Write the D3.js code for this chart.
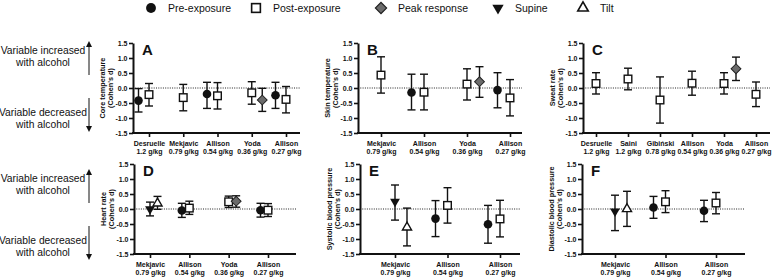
<!DOCTYPE html>
<html lang="en">
<head>
  <meta charset="UTF-8">
  <title>Alcohol effect sizes</title>
  <script src="https://d3js.org/d3.v7.min.js"></script>
  <style>
    body { margin: 0; background: #fff; }
    svg text { font-family: "Liberation Sans", Arial, sans-serif; fill: #111; }
    .axis path, .axis line { fill: none; stroke: #111; }
    .axis text { font-size: 7px; font-weight: bold; }
  </style>
</head>
<body>
  <svg id="svg" width="777" height="277"></svg>
  <script>
    // legend
    var markerTypes = ['pre', 'post', 'peak', 'supine', 'tilt']
    var legendLabels = ['Pre-exposure', 'Post-exposure', 'Peak response', 'Supine', 'Tilt']
    var yTicks = [-1.5, -1.0, -0.5, 0.0, 0.5, 1.0, 1.5]

    // A core temperature
    var coreStudies = ['Desruelle', 'Mekjavic', 'Allison', 'Yoda', 'Allison']
    var coreDoses = ['1.2 g/kg', '0.79 g/kg', '0.54 g/kg', '0.36 g/kg', '0.27 g/kg']
    var corePoints = [ // [study index, type, d, lower, upper]
      [0, 'pre', -0.42, -0.80, -0.02],
      [0, 'post', -0.22, -0.60, 0.15],
      [1, 'post', -0.32, -0.76, 0.12],
      [2, 'pre', -0.20, -0.68, 0.19],
      [2, 'post', -0.26, -0.70, 0.18],
      [3, 'post', -0.16, -0.54, 0.21],
      [3, 'peak', -0.40, -0.78, -0.01],
      [4, 'pre', -0.24, -0.68, 0.19],
      [4, 'post', -0.38, -0.83, 0.05]
    ]

    // B skin temperature
    var skinStudies = ['Mekjavic', 'Allison', 'Yoda', 'Allison']
    var skinDoses = ['0.79 g/kg', '0.54 g/kg', '0.36 g/kg', '0.27 g/kg']
    var skinPoints = [
      [0, 'post', 0.43, -0.17, 1.04],
      [1, 'pre', -0.15, -0.73, 0.46],
      [1, 'post', -0.14, -0.73, 0.46],
      [2, 'post', 0.13, -0.40, 0.64],
      [2, 'peak', 0.21, -0.31, 0.71],
      [3, 'pre', -0.07, -0.66, 0.51],
      [3, 'post', -0.33, -0.93, 0.28]
    ]

    // C sweat rate
    var sweatStudies = ['Desruelle', 'Saini', 'Gibiński', 'Allison', 'Yoda', 'Allison']
    var sweatDoses = ['1.2 g/kg', '1.2 g/kg', '0.78 g/kg', '0.54 g/kg', '0.36 g/kg', '0.27 g/kg']
    var sweatPoints = [
      [0, 'post', 0.15, -0.20, 0.51],
      [1, 'post', 0.30, -0.06, 0.66],
      [2, 'post', -0.40, -1.17, 0.37],
      [3, 'post', 0.16, -0.24, 0.56],
      [4, 'post', 0.15, -0.20, 0.51],
      [4, 'peak', 0.64, 0.25, 1.03],
      [5, 'post', -0.21, -0.62, 0.20]
    ]

    // D heart rate
    var hrStudies = ['Mekjavic', 'Allison', 'Yoda', 'Allison']
    var hrDoses = ['0.79 g/kg', '0.54 g/kg', '0.36 g/kg', '0.27 g/kg']
    var hrPoints = [
      [0, 'supine', 0.00, -0.23, 0.23],
      [0, 'tilt', 0.19, -0.01, 0.42],
      [1, 'pre', -0.05, -0.28, 0.19],
      [1, 'post', 0.03, -0.18, 0.26],
      [2, 'post', 0.24, 0.05, 0.43],
      [2, 'peak', 0.26, 0.06, 0.44],
      [3, 'pre', -0.04, -0.27, 0.19],
      [3, 'post', -0.04, -0.25, 0.18]
    ]

    // E systolic blood pressure
    var bpStudies = ['Mekjavic', 'Allison', 'Allison']
    var bpDoses = ['0.79 g/kg', '0.54 g/kg', '0.27 g/kg']
    var sbpPoints = [
      [0, 'supine', 0.25, -0.37, 0.80],
      [0, 'tilt', -0.61, -1.23, 0.03],
      [1, 'pre', -0.32, -0.92, 0.28],
      [1, 'post', 0.12, -0.47, 0.71],
      [2, 'pre', -0.51, -1.14, 0.12],
      [2, 'post', -0.33, -0.93, 0.29]
    ]

    // F diastolic blood pressure
    var dbpPoints = [
      [0, 'supine', -0.08, -0.72, 0.46],
      [0, 'tilt', 0.00, -0.58, 0.59],
      [1, 'pre', 0.05, -0.31, 0.42],
      [1, 'post', 0.24, -0.12, 0.61],
      [2, 'pre', -0.06, -0.42, 0.29],
      [2, 'post', 0.20, -0.16, 0.55]
    ]

    // layout
    var rows = [{ top: 43, bottom: 133 }, { top: 164, bottom: 254 }]
    var panels = [
      { id: 'A', title: ['Core temperature', "(Cohen's d)"], studies: coreStudies, doses: coreDoses, pts: corePoints, row: 0, x0: 133, x1: 300, t0: 149, t1: 286, slot: 10.5 },
      { id: 'B', title: ['Skin temperature', "(Cohen's d)"], studies: skinStudies, doses: skinDoses, pts: skinPoints, row: 0, x0: 358, x1: 522, t0: 381, t1: 510, slot: 12.5 },
      { id: 'C', title: ['Sweat rate', "(Cohen's d)"], studies: sweatStudies, doses: sweatDoses, pts: sweatPoints, row: 0, x0: 583, x1: 770, t0: 596, t1: 756, slot: 12 },
      { id: 'D', title: ['Heart rate', "(Cohen's d)"], studies: hrStudies, doses: hrDoses, pts: hrPoints, row: 1, x0: 134, x1: 296, t0: 150, t1: 268, slot: 7.5 },
      { id: 'E', title: ['Systolic blood pressure', "(Cohen's d)"], studies: bpStudies, doses: bpDoses, pts: sbpPoints, row: 1, x0: 360, x1: 520, t0: 395, t1: 500, slot: 12 },
      { id: 'F', title: ['Diastolic blood pressure', "(Cohen's d)"], studies: bpStudies, doses: bpDoses, pts: dbpPoints, row: 1, x0: 582, x1: 745, t0: 615, t1: 716, slot: 12 }
    ]

    // where each marker type sits relative to its study tick (in slots)
    var slotOffset = { pre: -1, post: 0, peak: 1, supine: 0, tilt: 1 }

    var svg = d3.select('#svg')

    function marker(sel, type) {
      if (type === 'pre') {
        sel.append('circle').attr('r', 4.3).attr('fill', '#111')
      } else if (type === 'post') {
        sel.append('rect').attr('x', -3.8).attr('y', -3.8).attr('width', 7.6).attr('height', 7.6)
          .attr('fill', '#fff').attr('stroke', '#111').attr('stroke-width', 1.4)
      } else if (type === 'peak') {
        sel.append('path').attr('d', d3.symbol(d3.symbolSquare, 48)())
          .attr('transform', 'rotate(45)')
          .attr('fill', '#6b6b6b').attr('stroke', '#222').attr('stroke-width', 1)
      } else if (type === 'supine') {
        sel.append('path').attr('d', d3.symbol(d3.symbolTriangle, 42)())
          .attr('transform', 'rotate(180)')
          .attr('fill', '#111')
      } else if (type === 'tilt') {
        sel.append('path').attr('d', d3.symbol(d3.symbolTriangle, 36)())
          .attr('fill', '#fff').attr('stroke', '#111').attr('stroke-width', 1.4)
      }
    }

    panels.forEach(function (p) {
      var r = rows[p.row]
      var y = d3.scaleLinear().domain([-1.5, 1.5]).range([r.bottom, r.top])
      var x = d3.scalePoint().domain(d3.range(p.studies.length)).range([p.t0, p.t1])
      var g = svg.append('g')

      // zero reference
      g.append('line')
        .attr('x1', p.x0).attr('x2', p.x1)
        .attr('y1', y(0)).attr('y2', y(0))
        .attr('stroke', '#222').attr('stroke-width', 1)
        .attr('stroke-dasharray', '1,1.3')

      // y axis
      var ya = g.append('g').attr('class', 'axis')
        .attr('transform', 'translate(' + p.x0 + ',0)')
        .call(d3.axisLeft(y).tickValues(yTicks).tickSize(4).tickSizeOuter(0)
          .tickFormat(function (d) { return d.toFixed(1) }))
      ya.select('.domain').attr('stroke-width', 2)
      ya.selectAll('.tick line').attr('stroke-width', 1.6)
      ya.selectAll('.tick text').attr('x', -5.5)

      // x axis
      var xa = g.append('g').attr('class', 'axis')
        .attr('transform', 'translate(0,' + r.bottom + ')')
        .call(d3.axisBottom(x).tickSize(4).tickSizeOuter(0).tickFormat(''))
      xa.select('.domain').remove()
      xa.selectAll('.tick line').attr('stroke-width', 1.6)
      xa.append('line').attr('x1', p.x0 - 1).attr('x2', p.x1).attr('stroke', '#111').attr('stroke-width', 2)
      var lab = xa.selectAll('.tick text')
        .attr('y', 9).attr('dy', 0)
      lab.text(null)
      lab.append('tspan').attr('x', 0).attr('dy', '0.5em').text(function (d) { return p.studies[d] })
      lab.append('tspan').attr('x', 0).attr('dy', '1.2em').text(function (d) { return p.doses[d] })

      // panel letter
      g.append('text').attr('x', p.x0 + 9).attr('y', r.top + 12)
        .attr('font-size', 15).attr('font-weight', 'bold').text(p.id)

      // y title
      var t = g.append('text')
        .attr('transform', 'translate(' + (p.x0 - 28) + ',' + ((r.top + r.bottom) / 2) + ') rotate(-90)')
        .attr('text-anchor', 'middle').attr('font-size', 7.3).attr('font-weight', 'bold')
      t.append('tspan').attr('x', 0).attr('y', 0).text(p.title[0])
      t.append('tspan').attr('x', 0).attr('y', 7.5).text(p.title[1])

      var px = function (d) { return x(d[0]) + slotOffset[d[1]] * p.slot }

      // error bars
      var eb = g.selectAll('.eb').data(p.pts).enter().append('g')
        .attr('stroke', '#111').attr('stroke-width', 1.4)
      eb.append('line').attr('x1', px).attr('x2', px)
        .attr('y1', function (d) { return y(d[3]) }).attr('y2', function (d) { return y(d[4]) })
      eb.append('line').attr('x1', function (d) { return px(d) - 4 }).attr('x2', function (d) { return px(d) + 4 })
        .attr('y1', function (d) { return y(d[3]) }).attr('y2', function (d) { return y(d[3]) })
      eb.append('line').attr('x1', function (d) { return px(d) - 4 }).attr('x2', function (d) { return px(d) + 4 })
        .attr('y1', function (d) { return y(d[4]) }).attr('y2', function (d) { return y(d[4]) })

      // markers
      g.selectAll('.mk').data(p.pts).enter().append('g')
        .attr('transform', function (d) { return 'translate(' + px(d) + ',' + y(d[2]) + ')' })
        .each(function (d) { marker(d3.select(this), d[1]) })
    })

    // legend
    var legendX = [151, 256, 381, 498, 583]
    var lg = svg.append('g').attr('transform', 'translate(0,8)')
    markerTypes.forEach(function (m, i) {
      var item = lg.append('g').attr('transform', 'translate(' + legendX[i] + ',0)')
      marker(item, m)
      item.selectAll('*').attr('transform', function () {
        var tr = d3.select(this).attr('transform') || ''
        return 'scale(1.15) ' + tr
      })
      lg.append('text').attr('x', legendX[i] + 17).attr('y', 3.8)
        .attr('font-size', 10.5).text(legendLabels[i])
    })

    // side notes
    rows.forEach(function (r, k) {
      var off = k * 128
      var sg = svg.append('g').attr('transform', 'translate(0,' + off + ')')
      var up = sg.append('text').attr('text-anchor', 'middle').attr('font-size', 10.3)
      up.append('tspan').attr('x', 43).attr('y', 54).text('Variable increased')
      up.append('tspan').attr('x', 43).attr('y', 66).text('with alcohol')
      var dn = sg.append('text').attr('text-anchor', 'middle').attr('font-size', 10.3)
      dn.append('tspan').attr('x', 43).attr('y', 116).text('Variable decreased')
      dn.append('tspan').attr('x', 43).attr('y', 128).text('with alcohol')
      sg.append('line').attr('x1', 89).attr('x2', 89).attr('y1', 75).attr('y2', 46).attr('stroke', '#111').attr('stroke-width', 1)
      sg.append('path').attr('d', 'M86,47 L89,41 L92,47 Z').attr('fill', '#111')
      sg.append('line').attr('x1', 89).attr('x2', 89).attr('y1', 98).attr('y2', 127).attr('stroke', '#111').attr('stroke-width', 1)
      sg.append('path').attr('d', 'M86,126 L89,132 L92,126 Z').attr('fill', '#111')
    })
  </script>
</body>
</html>
